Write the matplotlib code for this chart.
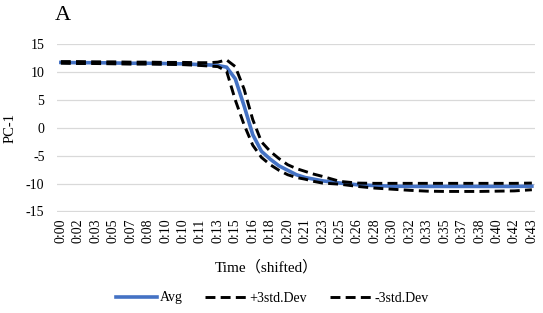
import matplotlib
matplotlib.use("Agg")
import matplotlib.pyplot as plt

plt.rcParams['font.family'] = ['Liberation Serif', 'Noto Sans CJK SC', 'DejaVu Sans']
plt.rcParams['axes.unicode_minus'] = False

tick_labels = ["0:00", "0:02", "0:03", "0:05", "0:07", "0:08", "0:10", "0:10", "0:11",
               "0:13", "0:15", "0:16", "0:18", "0:20", "0:21", "0:23", "0:25", "0:26",
               "0:28", "0:30", "0:32", "0:33", "0:35", "0:37", "0:38", "0:40", "0:42", "0:43"]

# sample positions along the category axis (label index units)
pos = [0, 1, 2, 3, 4, 5, 6, 7, 8, 8.5, 9, 9.5, 10, 10.5, 11, 11.5, 12, 12.5, 13, 13.5,
       14, 14.5, 15, 16, 17, 18, 19, 20, 21, 22, 23, 24, 25, 26, 27]

avg = [11.75, 11.7, 11.7, 11.65, 11.6, 11.6, 11.55, 11.5, 11.35, 11.3, 11.2, 10.9, 8.8,
       4.0, -1.2, -4.2, -5.6, -6.8, -7.6, -8.4, -8.9, -9.2, -9.5, -9.9, -10.2, -10.35,
       -10.45, -10.5, -10.5, -10.5, -10.5, -10.5, -10.5, -10.5, -10.45]

plus3 = [11.9, 11.9, 11.85, 11.85, 11.8, 11.8, 11.75, 11.75, 11.7, 11.7, 11.8, 12.2, 11.0,
         7.0, 1.5, -2.5, -4.2, -5.5, -6.6, -7.3, -7.8, -8.3, -8.7, -9.6, -9.9, -9.95,
         -9.95, -9.95, -9.95, -9.95, -9.95, -9.95, -9.95, -9.95, -9.9]

minus3 = [11.6, 11.55, 11.55, 11.5, 11.45, 11.45, 11.4, 11.35, 11.2, 11.1, 11.0, 10.2, 5.0,
          0.6, -3.1, -5.3, -6.6, -7.6, -8.4, -8.9, -9.2, -9.6, -9.9, -10.1, -10.5, -10.8,
          -11.0, -11.2, -11.35, -11.4, -11.4, -11.4, -11.35, -11.3, -11.1]

yticks = [15, 10, 5, 0, -5, -10, -15]

fig = plt.figure(figsize=(5.43, 3.13), dpi=100)
ax = fig.add_axes([57 / 543, 1 - 211.5 / 313, 478 / 543, (211.5 - 44.3) / 313])

dash = (0, (3.4, 1.8))
ax.plot(pos, avg, color='#4472C4', lw=2.6, label='Avg', zorder=3)
ax.plot(pos, plus3, color='black', lw=2.1, ls=dash, label='+3std.Dev', zorder=4)
ax.plot(pos, minus3, color='black', lw=2.1, ls=dash, label='-3std.Dev', zorder=4)

ax.set_xlim(-0.22, 27.18)
ax.set_ylim(-15, 15)
ax.set_yticks(yticks)
ax.set_xticks(range(len(tick_labels)))
ax.set_xticklabels(tick_labels, rotation=90, fontsize=10)
ax.tick_params(axis='y', labelsize=10, length=0, pad=9)
ax.tick_params(axis='x', length=0, pad=5)
ax.grid(axis='y', color='#D9D9D9', lw=0.9)
for s in ax.spines.values():
    s.set_visible(False)

ax.set_ylabel('PC-1', fontsize=10.5, labelpad=7)
fig.text(266 / 543, 1 - 267 / 313, 'Time（shifted）', fontsize=11, ha='center', va='center')
fig.text(55 / 543, 1 - 15 / 313, 'A', fontsize=16, ha='left', va='center')

leg = fig.legend(loc='center', bbox_to_anchor=(272 / 543, 1 - 298 / 313), ncol=3,
                 frameon=False, fontsize=10, handlelength=3.0, handletextpad=0.2,
                 columnspacing=1.6)

fig.savefig('out.png', dpi=100)
